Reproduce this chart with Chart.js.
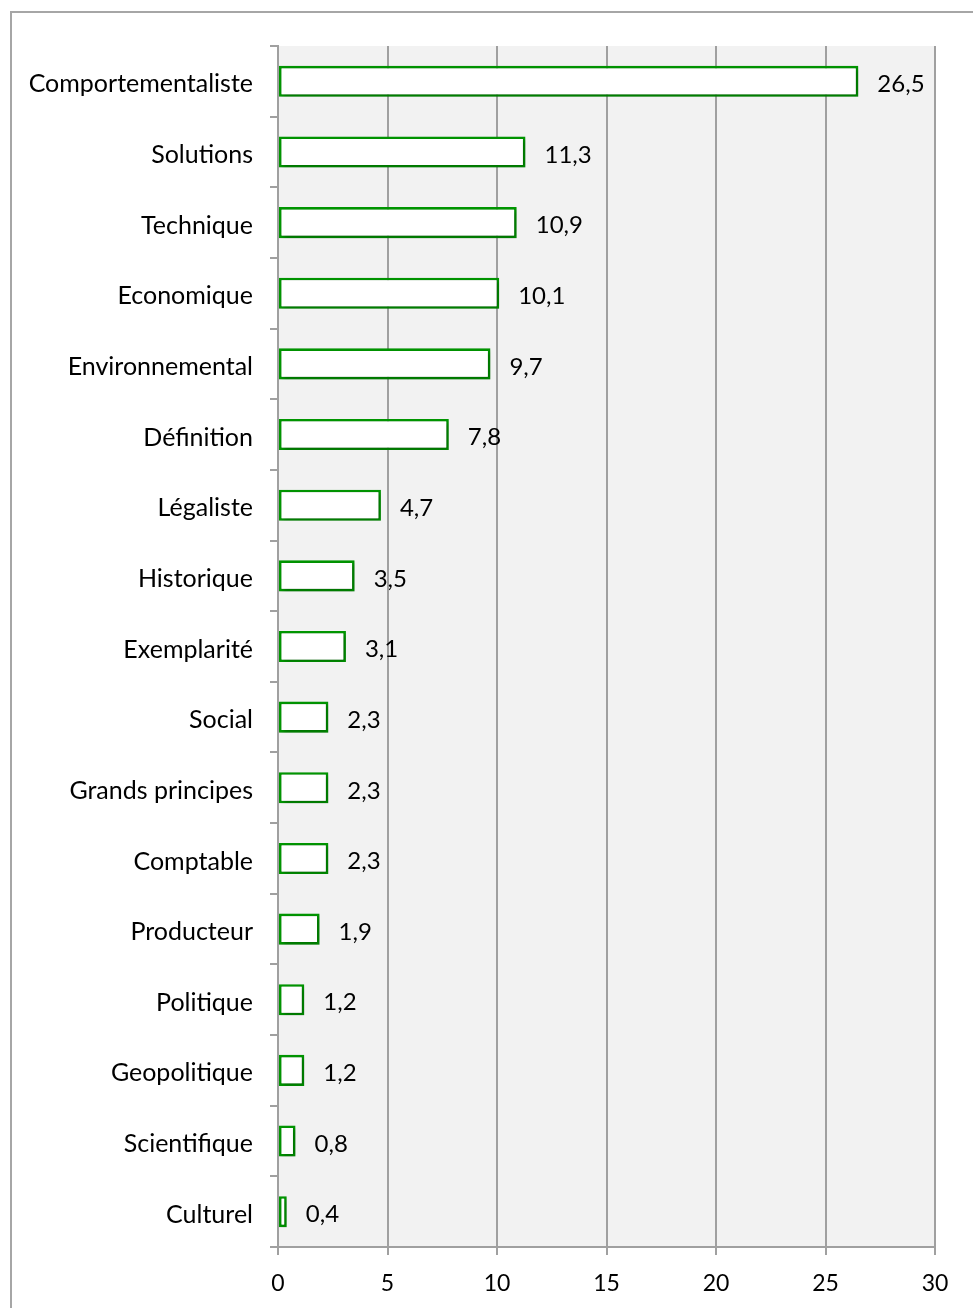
<!DOCTYPE html>
<html><head><meta charset="utf-8">
<script src="https://cdn.jsdelivr.net/npm/chart.js@4"></script>
<style>
html,body{margin:0;padding:0;background:#fff;}
#wrap{position:relative;width:973px;height:1308px;overflow:hidden;}
#frame{position:absolute;left:10px;top:11px;width:1000px;height:1400px;border:2px solid #a6a6a6;box-sizing:border-box;}
canvas{position:absolute;left:0;top:0;}
</style></head>
<body>
<div id="wrap"><div id="frame"></div><canvas id="c" width="973" height="1308"></canvas></div>
<script>
const categories = ["Comportementaliste","Solutions","Technique","Economique","Environnemental","Définition","Légaliste","Historique","Exemplarité","Social","Grands principes","Comptable","Producteur","Politique","Geopolitique","Scientifique","Culturel"];
const values = [26.5,11.3,10.9,10.1,9.7,7.8,4.7,3.5,3.1,2.3,2.3,2.3,1.9,1.2,1.2,0.8,0.4];
const xTicks = [0,5,10,15,20,25,30];

const FONT = 'Lato';
const bgPlugin = {
  id:'bg',
  beforeDraw(chart){
    const {ctx, chartArea:a} = chart;
    ctx.save(); ctx.fillStyle='#f2f2f2';
    ctx.fillRect(a.left,a.top,a.right-a.left,a.bottom-a.top);
    ctx.restore();
  },
  beforeDatasetsDraw(chart){
    const ctx = chart.ctx;
    ctx.save();
    ctx.shadowColor='rgba(0,0,0,0.28)'; ctx.shadowBlur=4; ctx.shadowOffsetX=2; ctx.shadowOffsetY=2;
  },
  afterDatasetsDraw(chart){ chart.ctx.restore(); }
};
const labelPlugin = {
  id:'vals',
  afterDatasetsDraw(chart){
    const {ctx} = chart;
    const meta = chart.getDatasetMeta(0);
    ctx.save();
    ctx.shadowColor='transparent';
    ctx.font = '24px '+FONT; ctx.fillStyle='#000';
    ctx.textAlign='left'; ctx.textBaseline='middle';
    meta.data.forEach((el,i)=>{
      ctx.fillText(String(values[i]).replace('.',','), el.x+19, el.y+3);
    });
    ctx.restore();
  }
};
new Chart(document.getElementById('c'),{
  type:'bar',
  data:{labels:categories,datasets:[{data:values,backgroundColor:'#ffffff',borderColor:'#009600',borderWidth:2.6,categoryPercentage:1,barPercentage:0.44,borderSkipped:false}]},
  options:{
    indexAxis:'y',responsive:false,animation:false,
    layout:{padding:{left:0,top:46,right:38,bottom:0}},
    plugins:{legend:{display:false},tooltip:{enabled:false}},
    scales:{
      x:{min:0,max:30,
        afterBuildTicks(s){s.ticks=xTicks.map(v=>({value:v}));},
        afterFit(s){s.height=61;},
        grid:{color:'#a0a0a0',lineWidth:2,tickLength:8,drawTicks:true},
        border:{color:'#a0a0a0',width:2},
        ticks:{font:{family:FONT,size:23},color:'#000',padding:15}
      },
      y:{
        afterFit(s){s.width=278;},
        grid:{offset:true,drawOnChartArea:false,color:'#a0a0a0',lineWidth:2,tickLength:8},
        border:{color:'#a0a0a0',width:2},
        ticks:{font:{family:FONT,size:25},color:'#000',padding:17,labelOffset:3}
      }
    }
  },
  plugins:[bgPlugin,labelPlugin]
});
</script>
</body></html>
